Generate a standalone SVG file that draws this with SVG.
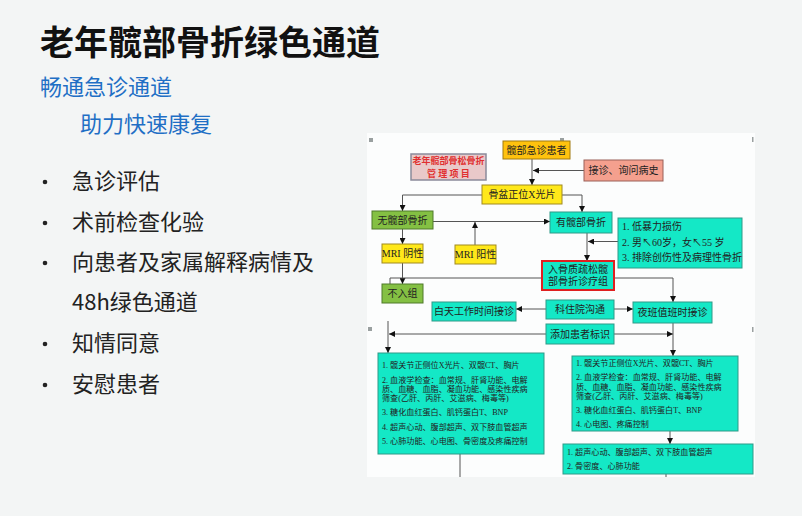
<svg xmlns="http://www.w3.org/2000/svg" width="802" height="516" viewBox="0 0 802 516">
<defs>
<marker id="ah" viewBox="0 0 6 6" refX="6" refY="3" markerWidth="6" markerHeight="6" markerUnits="userSpaceOnUse" orient="auto">
<path d="M0,0 L6,3 L0,6 z" fill="#111"/>
</marker>
</defs>
<style>
.slide{font-family:"Noto Sans CJK SC","Noto Sans",sans-serif;}
.title{font-size:34px;font-weight:bold;fill:#111;}
.sub{font-size:22px;fill:#1f6fc5;}
.bul{font-size:22px;fill:#222;}
.fc{font-family:"Liberation Serif","Noto Sans CJK SC",serif;fill:#222;}
.t10{font-size:10px;}
.t8{font-size:8.1px;}
.box{stroke:#5a6a60;stroke-width:1;}
.cyan{fill:#14e8c6;stroke:#2e9a88;stroke-width:1;}
.yel{fill:#ffe81a;stroke:#a08a20;stroke-width:1;}
.org{fill:#ffc20e;stroke:#a07a10;stroke-width:1;}
.grn{fill:#84c043;stroke:#4f7a2a;stroke-width:1;}
.sal{fill:#f4a08e;stroke:#9a6058;stroke-width:1;}
.ln{fill:none;stroke:#555;stroke-width:1;}
.arr{marker-end:url(#ah);}
.hd{fill:#9aa0a0;}
</style>
<rect x="0" y="0" width="802" height="516" fill="#f3f5f5"/>
<g id="slide-text" class="slide">
<text class="title" x="40" y="55">老年髋部骨折绿色通道</text>
<text class="sub" x="40" y="95">畅通急诊通道</text>
<text class="sub" x="80" y="132">助力快速康复</text>
<g class="bul">
<circle cx="45" cy="182" r="2.3" fill="#222"/>
<text x="72" y="189">急诊评估</text>
<circle cx="45" cy="223" r="2.3" fill="#222"/>
<text x="72" y="230">术前检查化验</text>
<circle cx="45" cy="263" r="2.3" fill="#222"/>
<text x="72" y="270">向患者及家属解释病情及</text>
<text x="72" y="310">48h绿色通道</text>
<circle cx="45" cy="344" r="2.3" fill="#222"/>
<text x="72" y="351">知情同意</text>
<circle cx="45" cy="385" r="2.3" fill="#222"/>
<text x="72" y="392">安慰患者</text>
</g>
</g>
<rect x="367" y="133" width="388" height="344" fill="#fcfdfd"/>
<g id="handles">
<rect class="hd" x="369" y="138" width="4" height="4"/>
<rect class="hd" x="560" y="138" width="4" height="4"/>
<rect class="hd" x="752" y="137" width="1.5" height="5"/>
<rect class="hd" x="368" y="327" width="4" height="4"/>
<rect class="hd" x="752" y="327" width="1.5" height="5"/>
</g>
<g id="connectors">
<path class="ln arr" d="M532,159 V185"/>
<path class="ln arr" d="M584,170.5 H533"/>
<path class="ln arr" d="M482,195 H402.5 V211"/>
<path class="ln arr" d="M562,195 H582 V212"/>
<path class="ln arr" d="M433,221.5 H550"/>
<path class="ln arr" d="M475,245 V222"/>
<path class="ln arr" d="M402.5,229 V244"/>
<path class="ln arr" d="M402.5,263 V284"/>
<path class="ln arr" d="M587,233 V261"/>
<path class="ln arr" d="M618,241.5 H588"/>
<path class="ln arr" d="M542,278 H390 V302"/>
<path class="ln arr" d="M614,278 H673 V302"/>
<path class="ln arr" d="M546,309 H516"/>
<path class="ln arr" d="M614,309 H633"/>
<path class="ln arr" d="M388,321 V353"/>
<path class="ln arr" d="M546,334 H389"/>
<path class="ln arr" d="M614,334 H673"/>
<path class="ln arr" d="M673,323 V356"/>
<path class="ln arr" d="M670,431 V444"/>
<path class="ln" d="M460,454 V477"/>
<path class="ln" d="M666,474 V477"/>
</g>
<g class="fc">
<g id="n-title">
<rect x="411" y="154" width="75" height="26" fill="#e9c9c9" stroke="#8a8a9a" stroke-width="1.5"/>
<text x="448.5" y="164" text-anchor="middle" font-size="9" font-weight="bold" fill="#e03030">老年髋部骨松骨折</text>
<text x="448.5" y="177" text-anchor="middle" font-size="9" font-weight="bold" fill="#e03030">管 理 项 目</text>
</g>
<g id="n-patient">
<rect class="org" x="503" y="141" width="67" height="18"/>
<text class="t10" x="536.5" y="153.5" text-anchor="middle">髋部急诊患者</text>
</g>
<g id="n-history">
<rect class="sal" x="584" y="160" width="79" height="21"/>
<text class="t10" x="623.5" y="174" text-anchor="middle">接诊、询问病史</text>
</g>
<g id="n-xray">
<rect class="yel" x="482" y="185" width="80" height="19"/>
<text class="t10" x="522" y="198" text-anchor="middle">骨盆正位X光片</text>
</g>
<g id="n-nofx">
<rect class="grn" x="372" y="211" width="61" height="18"/>
<text class="t10" x="402.5" y="223.5" text-anchor="middle">无髋部骨折</text>
</g>
<g id="n-fx">
<rect class="cyan" x="550" y="212" width="62" height="21"/>
<text class="t10" x="581" y="226" text-anchor="middle">有髋部骨折</text>
</g>
<g id="n-criteria">
<rect class="cyan" x="618" y="218" width="124" height="50"/>
<text class="t10" x="622" y="230">1. 低暴力损伤</text>
<text class="t10" x="622" y="246">2. 男↖60岁，女↖55 岁</text>
<text class="t10" x="622" y="261">3. 排除创伤性及病理性骨折</text>
</g>
<g id="n-mrineg">
<rect class="yel" x="382" y="244" width="41" height="19"/>
<text class="t10" x="402.5" y="257" text-anchor="middle">MRI 阴性</text>
</g>
<g id="n-mripos">
<rect class="yel" x="455" y="245" width="41" height="19"/>
<text class="t10" x="475.5" y="258" text-anchor="middle">MRI 阳性</text>
</g>
<g id="n-group">
<rect x="542" y="261" width="72" height="29" fill="#14e8c6" stroke="#e02020" stroke-width="2"/>
<text class="t10" x="578" y="272.5" text-anchor="middle">入骨质疏松髋</text>
<text class="t10" x="578" y="285" text-anchor="middle">部骨折诊疗组</text>
</g>
<g id="n-exclude">
<rect class="grn" x="382" y="284" width="41" height="19"/>
<text class="t10" x="402.5" y="297" text-anchor="middle">不入组</text>
</g>
<g id="n-day">
<rect class="cyan" x="432" y="302" width="84" height="19"/>
<text class="t10" x="474" y="315" text-anchor="middle">白天工作时间接诊</text>
</g>
<g id="n-comm">
<rect class="cyan" x="546" y="300" width="68" height="19"/>
<text class="t10" x="580" y="313" text-anchor="middle">科住院沟通</text>
</g>
<g id="n-night">
<rect class="cyan" x="633" y="302" width="79" height="21"/>
<text class="t10" x="672.5" y="316" text-anchor="middle">夜班值班时接诊</text>
</g>
<g id="n-tag">
<rect class="cyan" x="546" y="324" width="68" height="20"/>
<text class="t10" x="580" y="337.5" text-anchor="middle">添加患者标识</text>
</g>
<g id="n-dayexam">
<rect class="cyan" x="378" y="353" width="166" height="101"/>
<text class="t8" x="382" y="368">1. 髋关节正侧位X光片、双髋CT、胸片</text>
<text class="t8" x="382" y="383">2. 血液学检查：血常规、肝肾功能、电解</text>
<text class="t8" x="382" y="392.3">质、血糖、血脂、凝血功能、感染性疾病</text>
<text class="t8" x="382" y="401.3">筛查(乙肝、丙肝、艾滋病、梅毒等)</text>
<text class="t8" x="382" y="415.3">3. 糖化血红蛋白、肌钙蛋白T、BNP</text>
<text class="t8" x="382" y="429.7">4. 超声心动、腹部超声、双下肢血管超声</text>
<text class="t8" x="382" y="443.7">5. 心肺功能、心电图、骨密度及疼痛控制</text>
</g>
<g id="n-nightexam">
<rect class="cyan" x="572" y="356" width="166" height="75"/>
<text class="t8" x="576" y="366.3">1. 髋关节正侧位X光片、双髋CT、胸片</text>
<text class="t8" x="576" y="380.3">2. 血液学检查：血常规、肝肾功能、电解</text>
<text class="t8" x="576" y="389.7">质、血糖、血脂、凝血功能、感染性疾病</text>
<text class="t8" x="576" y="398.7">筛查(乙肝、丙肝、艾滋病、梅毒等)</text>
<text class="t8" x="576" y="413">3. 糖化血红蛋白、肌钙蛋白T、BNP</text>
<text class="t8" x="576" y="427">4. 心电图、疼痛控制</text>
</g>
<g id="n-nightexam2">
<rect class="cyan" x="563" y="444" width="190" height="30"/>
<text class="t8" x="567" y="455.3">1. 超声心动、腹部超声、双下肢血管超声</text>
<text class="t8" x="567" y="468.7">2. 骨密度、心肺功能</text>
</g>
</g>
</svg>
